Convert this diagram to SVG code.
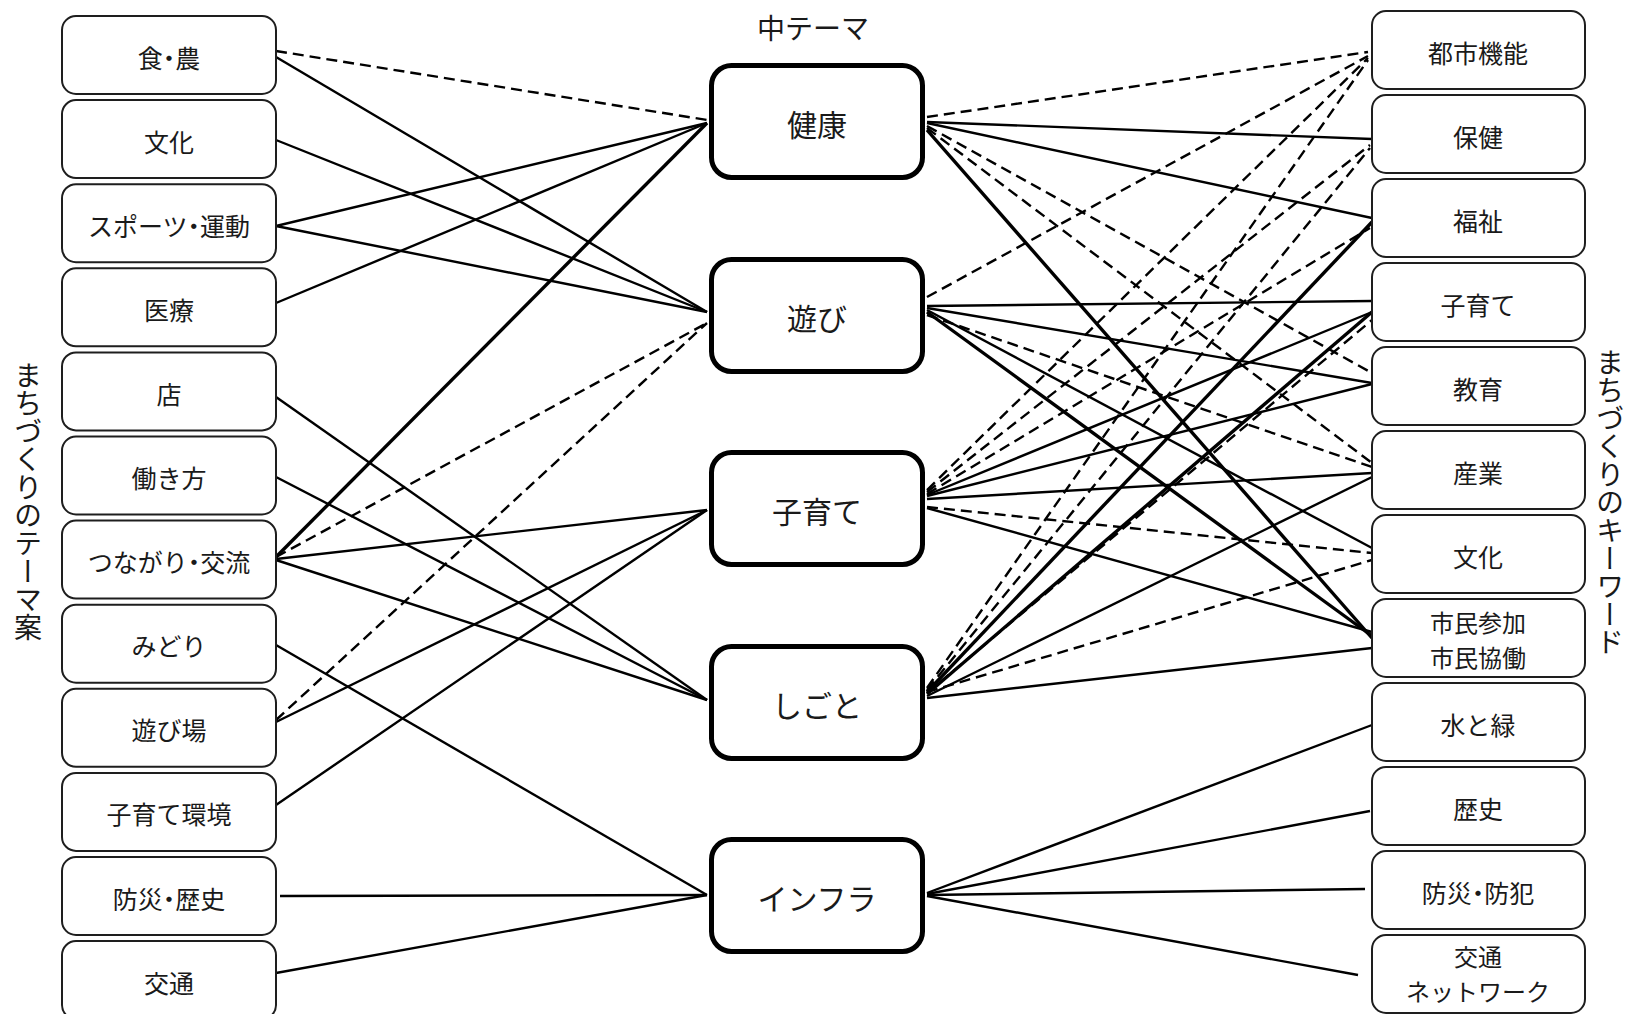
<svg xmlns="http://www.w3.org/2000/svg" width="1628" height="1014" viewBox="0 0 1628 1014">
  <style>
    text { font-family: "Noto Sans CJK JP", "Noto Sans", sans-serif; fill: #1a1a1a; text-anchor: middle; }
    .dot { font-feature-settings: "palt"; }
    .side rect { fill: #fff; stroke: #1e1e1e; stroke-width: 2; }
    .side text { font-size: 25px; }
    .side text.two { font-size: 24px; }
    .mid rect { fill: #fff; stroke: #000; stroke-width: 5; }
    .mid text { font-size: 30px; }
    .caption { font-size: 28px; }
    .vcap { font-size: 28px; writing-mode: vertical-rl; text-anchor: start; }
    #links line { stroke: #000; stroke-width: 2.4; fill: none; }
    #links line.d { stroke-dasharray: 11 6; }
    #links line.t { stroke-width: 3.4; }
  </style>
  <rect width="1628" height="1014" fill="#fff"/>

  <!-- captions -->
  <text class="caption" x="813" y="39">中テーマ</text>
  <text class="vcap" x="28" y="361">まちづくりのテーマ案</text>
  <text class="vcap" x="1610" y="348">まちづくりのキーワード</text>

  <!-- connectors -->
  <g id="links">
    <!-- left themes to middle themes -->
    <line class="d" x1="276" y1="51" x2="707" y2="120"/>
    <line x1="276" y1="57" x2="707" y2="312"/>
    <line x1="276" y1="140" x2="707" y2="312"/>
    <line x1="276" y1="226" x2="707" y2="123"/>
    <line x1="276" y1="226" x2="707" y2="312"/>
    <line x1="276" y1="303" x2="707" y2="123"/>
    <line x1="276" y1="397" x2="707" y2="700"/>
    <line x1="276" y1="477" x2="707" y2="700"/>
    <line class="t" x1="276" y1="557" x2="707" y2="123"/>
    <line class="d" x1="276" y1="557" x2="707" y2="323"/>
    <line x1="276" y1="559" x2="707" y2="510"/>
    <line x1="276" y1="560" x2="707" y2="700"/>
    <line x1="276" y1="645" x2="707" y2="895"/>
    <line class="d" x1="276" y1="720" x2="707" y2="323"/>
    <line x1="276" y1="722" x2="707" y2="510"/>
    <line x1="276" y1="805" x2="707" y2="510"/>
    <line x1="280" y1="896" x2="707" y2="895"/>
    <line x1="276" y1="973" x2="707" y2="895"/>

    <!-- 健康 to keywords -->
    <line class="d" x1="927" y1="117" x2="1368" y2="52"/>
    <line x1="927" y1="122" x2="1372" y2="139"/>
    <line x1="927" y1="123" x2="1372" y2="218"/>
    <line class="d" x1="927" y1="126" x2="1372" y2="373"/>
    <line class="d" x1="927" y1="128" x2="1372" y2="463"/>
    <line class="t" x1="927" y1="130" x2="1372" y2="638"/>

    <!-- 遊び to keywords -->
    <line class="d" x1="927" y1="297" x2="1368" y2="56"/>
    <line x1="927" y1="306" x2="1372" y2="301"/>
    <line x1="927" y1="308" x2="1372" y2="383"/>
    <line class="d" x1="927" y1="315" x2="1372" y2="467"/>
    <line x1="927" y1="310" x2="1372" y2="548"/>
    <line class="t" x1="927" y1="312" x2="1372" y2="636"/>

    <!-- 子育て to keywords -->
    <line class="d" x1="927" y1="490" x2="1368" y2="58"/>
    <line class="d" x1="927" y1="492" x2="1370" y2="145"/>
    <line class="d" x1="927" y1="494" x2="1370" y2="228"/>
    <line x1="927" y1="495" x2="1372" y2="312"/>
    <line x1="927" y1="496" x2="1372" y2="384"/>
    <line x1="927" y1="499" x2="1372" y2="473"/>
    <line class="d" x1="927" y1="507" x2="1372" y2="553"/>
    <line x1="927" y1="508" x2="1372" y2="632"/>

    <!-- しごと to keywords -->
    <line class="d" x1="927" y1="688" x2="1368" y2="60"/>
    <line class="d" x1="927" y1="690" x2="1370" y2="148"/>
    <line class="t" x1="927" y1="692" x2="1372" y2="222"/>
    <line class="t" x1="927" y1="694" x2="1372" y2="312"/>
    <line class="d" x1="927" y1="693" x2="1372" y2="320"/>
    <line x1="927" y1="696" x2="1372" y2="477"/>
    <line class="d" x1="927" y1="692" x2="1372" y2="560"/>
    <line x1="927" y1="698" x2="1372" y2="648"/>

    <!-- インフラ to keywords -->
    <line x1="927" y1="893" x2="1372" y2="725"/>
    <line x1="927" y1="894" x2="1370" y2="811"/>
    <line x1="927" y1="895" x2="1365" y2="889"/>
    <line x1="927" y1="896" x2="1358" y2="975"/>
  </g>

  <!-- left column: town-planning themes -->
  <g class="side">
    <g id="theme-food"><rect x="62" y="16" width="214" height="78" rx="14"/><text x="169" y="67.5">食<tspan class="dot">・</tspan>農</text></g>
    <g id="theme-culture"><rect x="62" y="100.1" width="214" height="78" rx="14"/><text x="169" y="151.6">文化</text></g>
    <g id="theme-sports"><rect x="62" y="184.2" width="214" height="78" rx="14"/><text x="169" y="235.7">スポーツ<tspan class="dot">・</tspan>運動</text></g>
    <g id="theme-medical"><rect x="62" y="268.3" width="214" height="78" rx="14"/><text x="169" y="319.8">医療</text></g>
    <g id="theme-shop"><rect x="62" y="352.4" width="214" height="78" rx="14"/><text x="169" y="403.9">店</text></g>
    <g id="theme-workstyle"><rect x="62" y="436.5" width="214" height="78" rx="14"/><text x="169" y="488">働き方</text></g>
    <g id="theme-connection"><rect x="62" y="520.6" width="214" height="78" rx="14"/><text x="169" y="572.1">つながり<tspan class="dot">・</tspan>交流</text></g>
    <g id="theme-green"><rect x="62" y="604.7" width="214" height="78" rx="14"/><text x="169" y="656.2">みどり</text></g>
    <g id="theme-playground"><rect x="62" y="688.8" width="214" height="78" rx="14"/><text x="169" y="740.3">遊び場</text></g>
    <g id="theme-childcare-env"><rect x="62" y="772.9" width="214" height="78" rx="14"/><text x="169" y="824.4">子育て環境</text></g>
    <g id="theme-disaster-history"><rect x="62" y="857" width="214" height="78" rx="14"/><text x="169" y="908.5">防災<tspan class="dot">・</tspan>歴史</text></g>
    <g id="theme-traffic"><rect x="62" y="941.1" width="214" height="78" rx="14"/><text x="169" y="992.6">交通</text></g>
  </g>

  <!-- middle column: mid-level themes -->
  <g class="mid">
    <g id="mid-health"><rect x="711.5" y="65.5" width="211" height="112" rx="20"/><text x="817" y="135.5">健康</text></g>
    <g id="mid-play"><rect x="711.5" y="259.5" width="211" height="112" rx="20"/><text x="817" y="329.5">遊び</text></g>
    <g id="mid-childcare"><rect x="711.5" y="452.5" width="211" height="112" rx="20"/><text x="817" y="522.5">子育て</text></g>
    <g id="mid-work"><rect x="711.5" y="646.5" width="211" height="112" rx="20"/><text x="817" y="716.5">しごと</text></g>
    <g id="mid-infra"><rect x="711.5" y="839.5" width="211" height="112" rx="20"/><text x="817" y="909.5">インフラ</text></g>
  </g>

  <!-- right column: keywords -->
  <g class="side">
    <g id="kw-urban"><rect x="1372" y="11" width="213" height="78" rx="14"/><text x="1478" y="63">都市機能</text></g>
    <g id="kw-health"><rect x="1372" y="95" width="213" height="78" rx="14"/><text x="1478" y="147">保健</text></g>
    <g id="kw-welfare"><rect x="1372" y="179" width="213" height="78" rx="14"/><text x="1478" y="231">福祉</text></g>
    <g id="kw-childcare"><rect x="1372" y="263" width="213" height="78" rx="14"/><text x="1478" y="315">子育て</text></g>
    <g id="kw-education"><rect x="1372" y="347" width="213" height="78" rx="14"/><text x="1478" y="399">教育</text></g>
    <g id="kw-industry"><rect x="1372" y="431" width="213" height="78" rx="14"/><text x="1478" y="483">産業</text></g>
    <g id="kw-culture"><rect x="1372" y="515" width="213" height="78" rx="14"/><text x="1478" y="567">文化</text></g>
    <g id="kw-citizen"><rect x="1372" y="599" width="213" height="78" rx="14"/><text class="two" x="1478" y="632">市民参加</text><text class="two" x="1478" y="667">市民協働</text></g>
    <g id="kw-water-green"><rect x="1372" y="683" width="213" height="78" rx="14"/><text x="1478" y="735">水と緑</text></g>
    <g id="kw-history"><rect x="1372" y="767" width="213" height="78" rx="14"/><text x="1478" y="819">歴史</text></g>
    <g id="kw-safety"><rect x="1372" y="851" width="213" height="78" rx="14"/><text x="1478" y="903">防災<tspan class="dot">・</tspan>防犯</text></g>
    <g id="kw-network"><rect x="1372" y="935" width="213" height="78" rx="14"/><text class="two" x="1478" y="966">交通</text><text class="two" x="1478" y="1001">ネットワーク</text></g>
  </g>
</svg>
